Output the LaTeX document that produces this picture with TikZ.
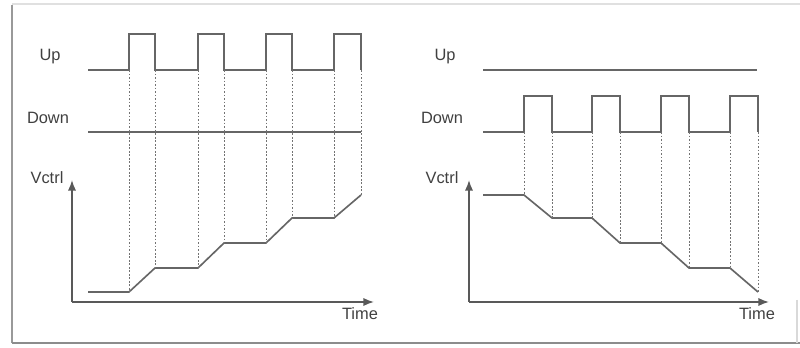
\documentclass[tikz,border=0pt]{standalone}
\usepackage{fontspec}
\setmainfont{Liberation Sans}
\usetikzlibrary{arrows.meta, positioning}

\tikzset{
  signal/.style={draw=black!60, line width=1.4pt, line join=miter},
  guide/.style={draw=black!55, line width=0.7pt, dash pattern=on 1.5pt off 1.5pt},
  axis/.style={draw=black!65, line width=1.4pt, -{Latex[length=9pt,width=7pt]}},
  lbl/.style={font=\fontsize{14}{16}\selectfont, text=black!75, inner sep=0pt}
}

\begin{document}
\begin{tikzpicture}[x=0.03cm, y=-0.03cm]
  \useasboundingbox (0,0) rectangle (800,348);
  % Frame
  \draw[black!12, line width=1.5pt] (12,4) -- (800,4);
  \draw[black!40, line width=1.5pt] (12,5) -- (12,343);
  \draw[black!45, line width=2.5pt] (12,343) -- (800,343);
  \draw[black!15, line width=1pt] (797,300) -- (797,343);

  % ---------- Left panel: Up pulses, Vctrl rising ----------
  \node[lbl] (upL) at (50,57) {Up};
  \node[lbl] (downL) at (48,118) {Down};
  \node[lbl] (vctrlL) at (47,178) {Vctrl};
  \node[lbl] (timeL) at (360,314) {Time};
  % Axes
  \coordinate (oL) at (72,302);
  \coordinate (yL) at (72,180);
  \coordinate (xL) at (374,302);
  \draw[axis] (oL) -- (yL);
  \draw[axis] (oL) -- (xL);
  % Up signal
  \draw[signal] (88,70)
    \foreach \a/\b in {129/155, 198/224, 266/292, 334/361} {
      -- (\a,70) -- (\a,34) -- (\b,34) -- (\b,70)
    };
  % Down signal
  \draw[signal] (88,132) -- (361,132);
  % Vctrl
  \draw[signal] (88,292) -- (129,292) -- (155,268) -- (198,268) -- (224,243)
    -- (266,243) -- (292,218) -- (334,218) -- (361,195);
  % Dashed guides
  \foreach \x/\y in {129/292, 155/268, 198/268, 224/243, 266/243, 292/218, 334/218, 361/195} {
    \draw[guide] (\x,70) -- (\x,\y);
  }

  % ---------- Right panel: Down pulses, Vctrl falling ----------
  \node[lbl] (upR) at (445,57) {Up};
  \node[lbl] (downR) at (442,118) {Down};
  \node[lbl] (vctrlR) at (442,178) {Vctrl};
  \node[lbl] (timeR) at (757,314) {Time};
  % Axes
  \coordinate (oR) at (469,302);
  \coordinate (yR) at (469,180);
  \coordinate (xR) at (769,302);
  \draw[axis] (oR) -- (yR);
  \draw[axis] (oR) -- (xR);
  % Up signal
  \draw[signal] (483,70) -- (757,70);
  % Down signal
  \draw[signal] (483,132)
    \foreach \a/\b in {524/552, 592/620, 661/689, 730/758} {
      -- (\a,132) -- (\a,96) -- (\b,96) -- (\b,132)
    };
  % Vctrl
  \draw[signal] (483,195) -- (524,195) -- (552,218) -- (592,218) -- (620,243)
    -- (661,243) -- (689,268) -- (730,268) -- (758,292);
  % Dashed guides
  \foreach \x/\y in {524/195, 552/218, 592/218, 620/243, 661/243, 689/268, 730/268, 758/292} {
    \draw[guide] (\x,132) -- (\x,\y);
  }
\end{tikzpicture}
\end{document}
